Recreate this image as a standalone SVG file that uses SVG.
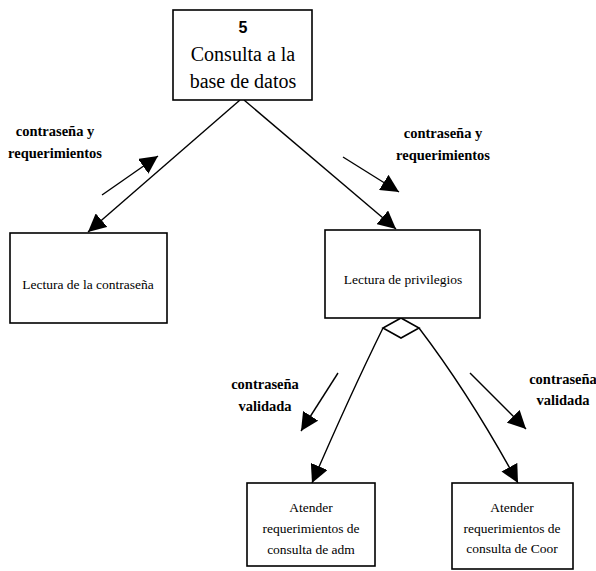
<svg xmlns="http://www.w3.org/2000/svg" width="596" height="571" viewBox="0 0 596 571">
  <style>
    .box { fill: #fff; stroke: #000; stroke-width: 1.6; }
    .line { fill: none; stroke: #000; stroke-width: 1.4; }
    .lbl { font-family: "Liberation Serif", serif; font-weight: bold; font-size: 14.5px; text-anchor: middle; fill: #000; }
    .txt { font-family: "Liberation Serif", serif; font-size: 13.5px; text-anchor: middle; fill: #000; }
    .big { font-family: "Liberation Serif", serif; font-size: 20px; text-anchor: middle; fill: #000; }
    .num { font-family: "Liberation Sans", sans-serif; font-weight: bold; font-size: 16px; text-anchor: middle; fill: #000; }
  </style>
  <defs>
    <marker id="arrow" markerUnits="userSpaceOnUse" markerWidth="20" markerHeight="18" refX="18" refY="9" orient="auto">
      <path d="M0,0 L18,9 L0,18 Z" fill="#000"/>
    </marker>
  </defs>
  <rect width="596" height="571" fill="#fff"/>

  <g id="connectors">
    <line class="line" x1="240" y1="100" x2="88" y2="232" marker-end="url(#arrow)"/>
    <line class="line" x1="244" y1="100" x2="396" y2="229" marker-end="url(#arrow)"/>
    <line class="line" x1="102" y1="195" x2="158" y2="156" marker-end="url(#arrow)"/>
    <line class="line" x1="343" y1="157" x2="399" y2="192" marker-end="url(#arrow)"/>
    <path class="line" d="M383,328 Q350,395 312,483" marker-end="url(#arrow)"/>
    <path class="line" d="M419,328 Q470,395 518,483" marker-end="url(#arrow)"/>
    <line class="line" x1="338" y1="373" x2="301" y2="431" marker-end="url(#arrow)"/>
    <line class="line" x1="470" y1="373" x2="526" y2="429" marker-end="url(#arrow)"/>
    <polygon class="box" points="401,318 419,328 401,338 383,328"/>
    <text class="lbl" x="55" y="136">contraseña y</text>
    <text class="lbl" x="55" y="158">requerimientos</text>
    <text class="lbl" x="443" y="138">contraseña y</text>
    <text class="lbl" x="443" y="160">requerimientos</text>
    <text class="lbl" x="265" y="389">contraseña</text>
    <text class="lbl" x="265" y="411">validada</text>
    <text class="lbl" x="563" y="384">contraseña</text>
    <text class="lbl" x="563" y="405">validada</text>
  </g>

  <g id="consulta">
    <rect class="box" x="173" y="10" width="139" height="90"/>
    <text class="num" x="243" y="33">5</text>
    <text class="big" x="243" y="61">Consulta a la</text>
    <text class="big" x="243" y="88">base de datos</text>
  </g>

  <g id="lectura-contrasena">
    <rect class="box" x="10" y="233" width="157" height="90"/>
    <text class="txt" x="88" y="289">Lectura de la contraseña</text>
  </g>

  <g id="lectura-privilegios">
    <rect class="box" x="325" y="230" width="155" height="88"/>
    <text class="txt" x="403" y="284">Lectura de privilegios</text>
  </g>

  <g id="atender-adm">
    <rect class="box" x="247" y="483" width="128" height="83"/>
    <text class="txt" x="311" y="512">Atender</text>
    <text class="txt" x="311" y="533">requerimientos de</text>
    <text class="txt" x="311" y="554">consulta de adm</text>
  </g>

  <g id="atender-coor">
    <rect class="box" x="452" y="483" width="121" height="86"/>
    <text class="txt" x="512" y="512">Atender</text>
    <text class="txt" x="512" y="533">requerimientos de</text>
    <text class="txt" x="512" y="553">consulta de Coor</text>
  </g>
</svg>
